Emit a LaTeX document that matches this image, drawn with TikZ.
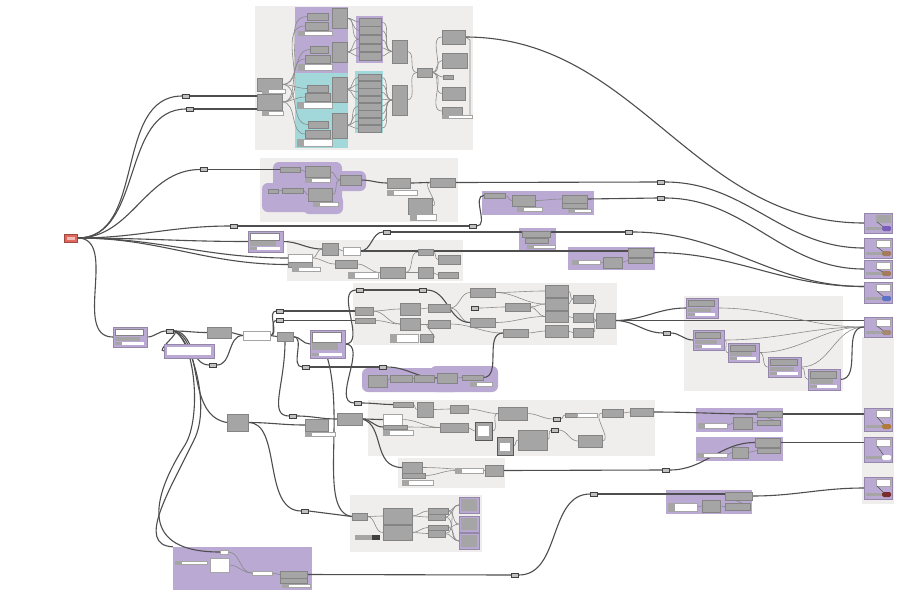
\documentclass[tikz,border=0pt]{standalone}
\usetikzlibrary{fit,calc}
\definecolor{bgc}{HTML}{EFEEEC}
\definecolor{pur}{HTML}{B9A9D3}
\definecolor{cya}{HTML}{A3D8DB}
\definecolor{ndc}{HTML}{A5A5A5}
\definecolor{wc}{HTML}{4E4E4E}
\definecolor{lwc}{HTML}{8A8A8A}
\definecolor{srcc}{HTML}{E0685D}
\definecolor{cbp}{HTML}{7A5DB8}
\definecolor{cbb}{HTML}{A27C5C}
\definecolor{cbl}{HTML}{5C72C4}
\definecolor{cbo}{HTML}{B07A38}
\definecolor{cbd}{HTML}{7B2C2C}
\pgfdeclarelayer{bgl}\pgfdeclarelayer{wl}\pgfsetlayers{bgl,wl,main}
\tikzset{
 grp/.style={fill=bgc,inner sep=0pt,draw=none},
 pg/.style={fill=pur,inner sep=0pt,draw=none},
 pgr/.style={fill=pur,inner sep=0pt,draw=none,rounded corners=6pt},
 pc/.style={fill=pur,inner sep=0pt,draw=pur!80!black,line width=0.3pt},
 cg/.style={fill=cya,inner sep=0pt,draw=none},
 gb/.style={fill=ndc,draw=ndc!80!black,line width=0.3pt,inner sep=0pt},
 gbd/.style={fill=ndc,draw=black!65,line width=0.8pt,inner sep=0pt},
 wbar/.style={fill=white,draw=ndc,line width=0.4pt,inner sep=0pt},
 relay/.style={fill=ndc!70,draw=black!75,line width=0.6pt,minimum width=7pt,minimum height=4pt,inner sep=0pt},
 wire/.style={draw=wc,line width=1.1pt},
 twire/.style={draw=lwc,line width=0.6pt},
}
\newcommand{\bx}[6]{\node[#1,fit={(#3,#4)(#5,#6)}] (#2) {};}
\newcommand{\wb}[5]{\bx{wbar}{#1}{#2}{#3}{#4}{#5}\fill[ndc] (#2,#3) rectangle (#2+7,#5);}
\newcommand{\rl}[3]{\node[relay] (#1) at (#2,#3) {};}
\newcommand{\pn}[6]{\bx{pc}{#1}{#2}{#3}{#4}{#5}
 \fill[#6,draw=ndc!80!black,line width=0.3pt] (#2+2,#3+2) rectangle (#4-4,{#3+0.42*(#5-#3)});
 \fill[ndc] (#2+2,{#3+0.48*(#5-#3)}) rectangle (#4-7,{#3+0.7*(#5-#3)});
 \fill[white] (#2+9,#5-5) rectangle (#4-3,#5-2);
 \fill[ndc] (#2+2,#5-5) rectangle (#2+9,#5-2);}
\newcommand{\outp}[5]{\bx{pc}{#1}{864}{#2}{892}{#3}
 \fill[#4,draw=ndc,line width=0.3pt] (876,#2+2) rectangle (890,#2+9);
 \draw[wc,line width=0.5pt] (877,#2+9) -- (885,#3-5);
 \fill[ndc] (866,#3-6) rectangle (882,#3-3);
 \fill[#5,rounded corners=1.5pt] (882,#3-7) rectangle (891,#3-2);}
\begin{document}
\begin{tikzpicture}[x=1pt,y=-1pt]
\useasboundingbox (0,0) rectangle (921,598);
\begin{pgfonlayer}{bgl}
\fill[white] (0,0) rectangle (921,598);
\bx{grp}{G1}{255}{6}{473}{150}
\bx{pg}{P1}{295}{7}{348}{73}
\bx{cg}{C1}{295}{73}{348}{148}
\bx{pg}{P1c}{356}{16}{383}{63}
\bx{cg}{C1c}{355}{71}{383}{133}
\bx{grp}{G2}{260}{158}{458}{222}
\bx{pgr}{P2a}{273}{162}{342}{188}
\bx{pgr}{P2b}{262}{183}{342}{212}
\bx{pgr}{P2c}{336}{171}{366}{191}
\bx{pgr}{P2d}{303}{195}{343}{214}
\bx{pg}{P3}{482}{191}{594}{215}
\bx{grp}{G3}{287}{240}{463}{281}
\bx{pg}{P6}{519}{228}{556}{250}
\bx{pg}{P7}{568}{247}{655}{270}
\bx{grp}{G8}{353}{283}{617}{345}
\bx{grp}{G9}{684}{296}{843}{391}
\bx{grp}{GR}{862}{337}{894}{504}
\bx{pgr}{P11a}{362}{368}{460}{392}
\bx{pgr}{P11b}{430}{366}{498}{392}
\bx{grp}{G12}{368}{400}{655}{456}
\bx{grp}{G13}{398}{458}{505}{488}
\bx{grp}{G14}{350}{495}{482}{552}
\bx{pg}{P15}{173}{547}{312}{590}
\bx{pg}{P16a}{696}{408}{783}{432}
\bx{pg}{P16b}{696}{437}{783}{461}
\bx{pg}{P16c}{666}{490}{752}{514}
\end{pgfonlayer}
% source
\node[fill=srcc,draw=srcc!70!black,line width=0.4pt,minimum width=13pt,minimum height=8pt,inner sep=0pt] (S) at (71,238) {};
\fill[srcc!45!white] (67,236.5) rectangle (75,239.5);
% G1
\bx{gb}{a1}{307}{13}{328}{20}
\bx{gb}{a2}{305}{22}{328}{30}
\wb{a3}{298}{31}{332}{35}
\bx{gb}{a4}{332}{8}{347}{28}
\bx{gb}{b1}{310}{46}{328}{53}
\bx{gb}{b2}{305}{55}{330}{63}
\wb{b3}{298}{64}{332}{70}
\bx{gb}{b4}{332}{42}{347}{62}
\bx{gb}{c1}{307}{85}{328}{92}
\bx{gb}{c2}{305}{93}{330}{101}
\wb{c3}{297}{102}{332}{108}
\bx{gb}{c4}{332}{77}{347}{102}
\bx{gb}{d1}{308}{121}{328}{128}
\bx{gb}{d2}{305}{130}{330}{138}
\wb{d3}{297}{139}{332}{146}
\bx{gb}{d4}{332}{113}{347}{138}
\foreach \i in {0,...,4} {\bx{gb}{s\i}{359}{18+8.6*\i}{381}{25.8+8.6*\i}}
\foreach \i in {0,...,7} {\bx{gb}{t\i}{358}{74+7.3*\i}{381}{80.6+7.3*\i}}
\bx{gb}{e1}{392}{40}{407}{63}
\bx{gb}{e2}{392}{85}{407}{115}
\bx{gb}{e3}{417}{68}{432}{77}
\bx{gb}{f1}{442}{30}{465}{44}
\bx{gb}{f2}{442}{53}{467}{68}
\bx{gb}{f3}{443}{75}{453}{79}
\bx{gb}{f4}{442}{87}{465}{100}
\bx{gb}{f5}{442}{107}{462}{115}
\wb{f6}{442}{115}{472}{118}
\bx{gb}{g1}{257}{78}{282}{91}
\wb{g1w}{262}{89}{285}{93}
\bx{gb}{g2}{257}{94}{282}{110}
\wb{g2w}{262}{111}{283}{115}
% G2
\bx{gb}{h1}{280}{167}{300}{172}
\bx{gb}{h2}{305}{166}{330}{177}
\wb{h2b}{305}{178}{330}{182}
\bx{gb}{h3}{340}{175}{361}{185}
\bx{gb}{h4}{268}{189}{278}{193}
\bx{gb}{h5}{282}{188}{303}{193}
\bx{gb}{h6}{308}{188}{332}{201}
\wb{h6b}{313}{202}{338}{206}
\bx{gb}{h7}{387}{178}{410}{188}
\wb{h7b}{387}{190}{417}{195}
\bx{gb}{h8}{430}{178}{455}{187}
\bx{gb}{h9}{408}{198}{432}{214}
\wb{h9b}{410}{214}{436}{220}
% P3
\bx{gb}{i1}{484}{193}{505}{198}
\bx{gb}{i2}{512}{195}{535}{206}
\wb{i4}{517}{207}{542}{211}
\bx{gb}{i5}{562}{195}{587}{203}
\bx{gb}{i6}{562}{203}{587}{208}
\wb{i7}{568}{209}{591}{212}
% P5, G3
\pn{P5}{248}{231}{283}{252}{white}
\bx{gb}{k1}{322}{243}{338}{255}
\bx{wbar}{k2}{343}{247}{360}{255}
\bx{gb}{k3}{335}{260}{357}{268}
\bx{wbar}{k4}{288}{254}{312}{262}
\bx{gb}{k5}{288}{262}{312}{267}
\wb{k6}{292}{267}{320}{271}
\bx{gb}{k7}{380}{267}{405}{278}
\bx{gb}{k8}{418}{249}{433}{255}
\bx{gb}{k9}{418}{267}{433}{278}
\bx{gb}{k10}{438}{255}{460}{264}
\wb{k11}{348}{272}{378}{278}
\bx{gb}{k12}{438}{272}{458}{278}
% P6 P7
\bx{gb}{l1}{522}{231}{550}{237}
\bx{gb}{l2}{525}{238}{548}{243}
\wb{l3}{527}{245}{555}{248}
\wb{m1}{572}{260}{600}{264}
\bx{gb}{m2}{603}{257}{622}{268}
\bx{gb}{m3}{628}{248}{653}{257}
\bx{gb}{m4}{628}{258}{652}{263}
% outputs
\outp{O1}{213}{233}{ndc}{cbp}
\outp{O2}{238}{258}{white}{cbb}
\outp{O3}{260}{278}{white}{cbb}
\outp{O4}{282}{303}{white}{cbl}
\outp{O5}{317}{337}{white}{cbb!70!ndc}
\outp{O6}{408}{431}{white}{cbo}
\outp{O7}{437}{462}{white}{white}
\outp{O8}{477}{499}{white}{cbd}
% left
\pn{L1}{113}{327}{147}{347}{white}
\bx{pc}{L2}{164}{344}{214}{358}
\fill[white] (167,347) rectangle (211,355);
\bx{gb}{L3}{207}{327}{231}{338}
\bx{wbar}{L4}{243}{331}{270}{340}
\bx{gb}{L5}{277}{332}{293}{341}
\pn{L6}{310}{330}{345}{358}{white}
\bx{gb}{L7}{227}{414}{248}{431}
\bx{gb}{L8}{305}{419}{328}{431}
\wb{L8b}{305}{432}{335}{436}
\bx{gb}{L9}{337}{413}{362}{425}
% G8
\bx{gb}{x1}{355}{307}{373}{315}
\bx{gb}{x2}{355}{318}{375}{323}
\bx{gb}{x3}{400}{303}{420}{315}
\bx{gb}{x4}{400}{318}{420}{330}
\bx{gb}{x5}{428}{304}{450}{312}
\bx{gb}{x6}{428}{320}{450}{328}
\wb{x7}{390}{334}{418}{342}
\bx{gb}{x8}{420}{334}{433}{342}
\bx{gb}{x9}{470}{288}{495}{297}
\bx{gb}{x10}{470}{318}{495}{327}
\bx{gb}{x11}{505}{303}{530}{311}
\bx{gb}{x12}{503}{329}{528}{337}
\bx{gb}{y1}{545}{285}{568}{297}
\bx{gb}{y2}{545}{298}{568}{310}
\bx{gb}{y3}{545}{311}{568}{322}
\bx{gb}{y4}{545}{325}{568}{337}
\bx{gb}{y5}{573}{295}{593}{303}
\bx{gb}{y6}{573}{313}{593}{322}
\bx{gb}{y7}{573}{328}{593}{337}
\bx{gb}{y8}{596}{313}{615}{328}
% P11
\bx{gb}{p1}{368}{375}{387}{387}
\bx{gb}{p2}{390}{375}{412}{382}
\bx{gb}{p3}{414}{375}{434}{382}
\bx{gb}{p4}{437}{373}{457}{383}
\bx{gb}{p5}{462}{375}{483}{380}
\wb{p6}{470}{382}{492}{386}
% G12
\bx{gb}{z1}{393}{402}{413}{407}
\bx{gb}{z2}{417}{402}{433}{417}
\bx{wbar}{z3}{383}{414}{402}{425}
\bx{gb}{z4}{383}{425}{407}{429}
\wb{z5}{383}{430}{413}{435}
\bx{gb}{z6}{450}{405}{468}{413}
\bx{gb}{z7}{440}{423}{468}{432}
\bx{gbd}{z8}{475}{422}{492}{440}
\fill[white] (478,426) rectangle (489,436);
\bx{gbd}{z9}{497}{437}{513}{455}
\fill[white] (500,443) rectangle (510,451);
\bx{gb}{z10}{498}{407}{527}{420}
\bx{gb}{z11}{518}{430}{547}{450}
\bx{gb}{z12}{565}{413}{577}{417}
\fill[white,draw=ndc,line width=0.3pt] (577,413) rectangle (597,417);
\bx{gb}{z13}{578}{435}{602}{447}
\bx{gb}{z14}{602}{409}{623}{417}
\bx{gb}{z15}{630}{408}{653}{416}
% G13
\bx{gb}{o1}{402}{462}{422}{473}
\bx{gb}{o2}{402}{473}{425}{478}
\wb{o3}{402}{480}{433}{485}
\wb{o4}{455}{468}{483}{473}
\bx{gb}{o5}{485}{465}{503}{476}
% G14
\bx{gb}{n1}{352}{513}{367}{520}
\bx{gb}{n2}{383}{508}{412}{524}
\bx{gb}{n3}{383}{525}{412}{540}
\bx{gb}{n4}{428}{508}{448}{514}
\bx{gb}{n5}{428}{514}{445}{520}
\bx{gb}{n6}{428}{525}{448}{530}
\bx{gb}{n7}{428}{530}{445}{537}
\bx{pc}{v1}{459}{497}{479}{513}
\bx{pc}{v2}{459}{516}{479}{532}
\bx{pc}{v3}{459}{533}{479}{549}
\fill[ndc] (461,499) rectangle (477,511) (461,518) rectangle (477,530) (461,535) rectangle (477,547);
\fill[ndc] (355,535) rectangle (372,540);
\fill[black!75] (372,535) rectangle (380,540);
% P15
\bx{wbar}{pw1}{220}{550}{228}{554}
\wb{pbar}{175}{561}{207}{564}
\bx{wbar}{pw2}{210}{558}{229}{572}
\bx{wbar}{pw3}{252}{571}{272}{575}
\bx{gb}{pb1}{280}{571}{307}{578}
\bx{gb}{pb2}{280}{578}{307}{583}
\wb{pb3}{282}{584}{310}{587}
% P16
\wb{ua1}{698}{423}{727}{428}
\bx{gb}{ua2}{733}{417}{752}{429}
\bx{gb}{ua3}{757}{411}{782}{417}
\bx{gb}{ua4}{757}{420}{780}{425}
\bx{gb}{ub1}{755}{438}{780}{447}
\bx{gb}{ub2}{757}{448}{780}{453}
\bx{gb}{ub3}{732}{447}{748}{458}
\wb{ub4}{697}{453}{727}{457}
\wb{uc1}{668}{503}{697}{511}
\bx{gb}{uc2}{702}{500}{720}{512}
\bx{gb}{uc3}{725}{492}{752}{500}
\bx{gb}{uc4}{725}{503}{750}{510}
% G9
\pn{Q1}{686}{298}{718}{318}{ndc}
\pn{Q2}{693}{330}{724}{350}{ndc}
\pn{Q3}{728}{343}{759}{362}{ndc}
\pn{Q4}{768}{357}{801}{377}{ndc}
\pn{Q5}{808}{369}{840}{390}{ndc}
% relays
\rl{r1}{186}{96}\rl{r2}{190}{109}\rl{r3}{204}{169.5}\rl{r4}{234}{226}\rl{r5}{473}{226}
\rl{r6}{661}{182}\rl{r7}{661}{198}\rl{r8}{629}{232}\rl{r9}{387}{232}\rl{r10}{170}{331}
\rl{r11}{213}{365}\rl{r12}{280}{311}\rl{r13}{280}{320.5}\rl{r14}{306}{367}\rl{r15}{360}{290}
\rl{r16}{423}{290}\rl{r17}{475}{308}\rl{r18}{383}{367}\rl{r19}{667}{333}\rl{r20}{293}{416}
\rl{r21}{358}{403}\rl{r22}{557}{419}\rl{r23}{555}{430}\rl{r24}{666}{470}\rl{r25}{305}{511}
\rl{r26}{515}{575}\rl{r27}{594}{494}
% ---------------- wires
\begin{pgfonlayer}{wl}
% top inputs
\draw[wire] (S.east) to[out=0,in=180] (r1.west); \draw[wire] (r1.east) -- (r1 -| g2.west);
\draw[wire] (S.east) to[out=0,in=180] (r2.west); \draw[wire] (r2.east) -- (r2 -| g2.west);
% G1 internal
\foreach \t in {a1,b1,c1,d1} {\draw[twire] (g1.east) to[out=0,in=180] (\t.west);}
\foreach \t in {a2,b2,c2,d2} {\draw[twire] (g2.east) to[out=0,in=180] (\t.west);}
\foreach \i in {0,1,2} {\draw[twire] (a4.east) to[out=0,in=180] (s\i.west);}
\foreach \i in {2,3,4} {\draw[twire] (b4.east) to[out=0,in=180] (s\i.west);}
\foreach \i in {0,...,3} {\draw[twire] (c4.east) to[out=0,in=180] (t\i.west);}
\foreach \i in {4,...,7} {\draw[twire] (d4.east) to[out=0,in=180] (t\i.west);}
\foreach \i in {0,...,4} {\draw[twire] (s\i.east) to[out=0,in=180] (e1.west);}
\foreach \i in {0,...,7} {\draw[twire] (t\i.east) to[out=0,in=180] (e2.west);}
\draw[twire] (e1.east) to[out=0,in=180] (e3.west);
\draw[twire] (e2.east) to[out=0,in=180] (e3.west);
\foreach \t in {f1,f2,f3,f4,f5} {\draw[twire] (e3.east) to[out=0,in=180] (\t.west);}
\draw[twire] (f1.east) -- (470,40) -- (470,116);
% G2
\draw[wire] (S.east) to[out=0,in=180] (r3.west); \draw[wire] (r3.east) -- (h1.west);
\draw[twire] (h1.east) to[out=0,in=180] (h2.west);
\draw[twire] (h2.east) to[out=0,in=180] (h3.west);
\draw[twire] (h6.east) to[out=0,in=180] (h3.west);
\draw[twire] (h4.east) -- (h5.west);
\draw[twire] (h5.east) to[out=0,in=180] (h6.west);
\draw[wire] (h3.east) to[out=0,in=180] (h7.west);
\draw[wire] (h7.east) to[out=0,in=180] (h8.west);
\draw[twire] (h8.west) to[out=180,in=0] (h9.east);
\draw[wire] (h8.east) -- (r6.west);
% straight lines from source
\draw[wire] (S.east) to[out=0,in=180] (r4.west); \draw[wire] (r4.east) -- (r5.west);
\draw[wire] (r5.east) to[out=0,in=180] (i1.west);
\draw[twire] (i1.east) to[out=0,in=180] (i2.west);
\draw[twire] (i2.east) to[out=0,in=180] (i5.west);
\draw[wire] (i5.east) -- (r7.west);
\draw[wire] (S.east) to[out=0,in=180] (P5.west);
\draw[wire] (S.east) to[out=0,in=180] (k4.west);
\draw[wire] (S.east) to[out=0,in=180] (k5.west);
\draw[wire] (P5.east) to[out=0,in=180] (k1.west);
\draw[twire] (k1.east) to[out=0,in=180] (k2.west);
\draw[twire] (k4.east) to[out=0,in=180] (k1.west);
\draw[twire] (k4.east) to[out=0,in=180] (k3.west);
\draw[twire] (k3.east) to[out=0,in=180] (k7.west);
\draw[twire] (k7.east) to[out=0,in=180] (k8.west);
\draw[twire] (k7.east) to[out=0,in=180] (k9.west);
\draw[twire] (k8.east) to[out=0,in=180] (k10.west);
\draw[twire] (k9.east) to[out=0,in=180] (k12.west);
\draw[wire] (k2.east) to[out=0,in=180] (r9.west);
\draw[wire] (k2.east) -- (k2.east -| m3.west);
\draw[wire] (r9.east) -- (r9 -| l1.west);
\draw[wire] (r9 -| l1.east) -- (r8.west);
\draw[twire] (m1.east) to[out=0,in=180] (m2.west);
\draw[twire] (m2.east) to[out=0,in=180] (m4.west);
% right outputs
\draw[wire] (f1.east) to[out=0,in=180] (O1.west);
\draw[wire] (r6.east) to[out=0,in=180] (O2.west);
\draw[wire] (r7.east) to[out=0,in=180] (O3.west);
\draw[wire] (r8.east) to[out=0,in=180] ([yshift=6pt]O4.west);
\draw[wire] (m3.east) to[out=0,in=180] ([yshift=6pt]O4.west);
% G8 internal
\draw[wire] (r12.east) -- (x1.west); \draw[wire] (r13.east) -- (x2.west);
\draw[twire] (x1.east) to[out=0,in=180] (x3.west);
\draw[twire] (x1.east) to[out=0,in=180] (x4.west);
\draw[twire] (x2.east) to[out=0,in=180] (x4.west);
\draw[twire] (x3.east) to[out=0,in=180] (x5.west);
\draw[twire] (x4.east) to[out=0,in=180] (x6.west);
\draw[twire] (x5.east) to[out=0,in=180] (x9.west);
\draw[twire] (x5.east) to[out=0,in=180] (x10.west);
\draw[twire] (x6.east) to[out=0,in=180] (x12.west);
\draw[twire] (x8.east) to[out=0,in=180] (x6.west);
\draw[twire] (r17.east) to[out=0,in=180] (x11.west);
\draw[twire] (x9.east) to[out=0,in=180] (y1.west);
\draw[twire] (x9.east) to[out=0,in=180] (y2.west);
\draw[twire] (x10.east) to[out=0,in=180] (y3.west);
\draw[twire] (x11.east) to[out=0,in=180] (y2.west);
\draw[twire] (x11.east) to[out=0,in=180] (y3.west);
\draw[twire] (x12.east) to[out=0,in=180] (y4.west);
\draw[twire] (y1.east) to[out=0,in=180] (y5.west);
\draw[twire] (y2.east) to[out=0,in=180] (y5.west);
\draw[twire] (y3.east) to[out=0,in=180] (y6.west);
\draw[twire] (y4.east) to[out=0,in=180] (y7.west);
\foreach \t in {y5,y6,y7} {\draw[twire] (\t.east) to[out=0,in=180] (y8.west);}
\draw[wire] (r15.east) -- (r16.west);
\draw[wire] (r16.east) to[out=0,in=180] (x10.west);
% G9 fan
\draw[wire] (y8.east) to[out=0,in=180] (Q1.west);
\draw[wire] (y8.east) to[out=0,in=180] (r19.west);
\draw[wire] (r19.east) to[out=0,in=180] (Q2.west);
\draw[wire] (y8.east) -- (y8.east -| O5.west);
\draw[twire] (Q2.east) to[out=0,in=180] (Q3.west);
\draw[twire] (Q3.east) to[out=0,in=180] (Q4.west);
\draw[twire] (Q4.east) to[out=0,in=180] (Q5.west);
\foreach \t in {Q1,Q2,Q3,Q4} {\draw[twire] (\t.east) to[out=0,in=180] (O5.west);}
\draw[wire] (Q5.east) to[out=0,in=180] (O5.west);
% left / lower
\draw[wire] (S.east) to[out=0,in=180] (L1.west);
\draw[wire] (L1.east) to[out=0,in=180] (r10.west);
\draw[wire] (r10.east) to[out=0,in=180] (L3.west);
\draw[wire] (r10.east) to[out=0,in=180] (r11.west);
\draw[wire] (r10.east) to[out=0,in=180] (L2.west);
\draw[wire] (r11.east) to[out=0,in=180] (L4.west);
\draw[wire] (L3.east) -- (L4.west);
\draw[wire] (L4.east) to[out=0,in=180] (r12.west);
\draw[wire] (L4.east) to[out=0,in=180] (r13.west);
\draw[wire] (L4.east) to[out=0,in=180] (L5.west);
\draw[wire] (L5.east) to[out=0,in=180] (L6.west);
\draw[wire] (L5.east) to[out=0,in=180] (r14.west);
\draw[wire] (r14.east) -- (r18.west);
\draw[wire] (r18.east) to[out=0,in=180] (p4.west);
\draw[twire] (p1.east) -- (p2.west); \draw[twire] (p2.east) -- (p3.west);
\draw[twire] (p3.east) -- (p4.west); \draw[twire] (p4.east) -- (p5.west);
\draw[wire] (p5.east) to[out=0,in=180] (x12.west);
\draw[wire] (L6.east) to[out=0,in=180] (r15.west);
\draw[wire] (L6.east) to[out=0,in=180] (r21.west);
\draw[wire] (L6.south) .. controls (345,420) and (318,512) .. (n1.west);
\draw[wire] (L5.south) .. controls (285,385) and (268,416) .. (r20.west);
\draw[wire] (r20.east) to[out=0,in=180] (L9.west);
\draw[wire] (r10.east) .. controls (195,340) and (202,417) .. (185,445) .. controls (150,500) and (140,552) .. (pw1.west);
\draw[wire] (r10.east) .. controls (190,336) and (212,405) .. (194,440) .. controls (170,490) and (135,545) .. (P15.north west);
\draw[wire] (r10.east) .. controls (205,340) and (185,415) .. (L7.west);
\draw[wire] (L7.east) to[out=0,in=180] (L8.west);
\draw[wire] (L7.east) .. controls (282,422) and (262,511) .. (r25.west);
\draw[wire] (r25.east) -- (n1.west);
\draw[twire] (n1.east) to[out=0,in=180] (n2.west);
\draw[twire] (n1.east) to[out=0,in=180] (n3.west);
\draw[twire] (n2.east) to[out=0,in=180] (n4.west);
\draw[twire] (n2.east) to[out=0,in=180] (n5.west);
\draw[twire] (n3.east) to[out=0,in=180] (n6.west);
\draw[twire] (n3.east) to[out=0,in=180] (n7.west);
\foreach \a/\b in {n4/v1,n4/v2,n5/v1,n5/v3,n6/v2,n6/v3,n7/v1,n7/v3} {\draw[twire] (\a.east) to[out=0,in=180] (\b.west);}
% G12
\draw[wire] (r21.east) to[out=0,in=180] (z1.west);
\draw[wire] (L9.east) to[out=0,in=180] (z3.west);
\draw[wire] (L9.east) to[out=0,in=180] (z4.west);
\draw[wire] (L9.east) .. controls (385,425) and (372,467) .. (o1.west);
\draw[twire] (z1.east) to[out=0,in=180] (z2.west);
\draw[twire] (z2.east) to[out=0,in=180] (z6.west);
\draw[twire] (z4.east) to[out=0,in=180] (z7.west);
\draw[twire] (z3.east) to[out=0,in=180] (z7.west);
\draw[twire] (z7.east) to[out=0,in=180] (z8.west);
\draw[twire] (z6.east) to[out=0,in=180] (z10.west);
\draw[twire] (z8.east) to[out=0,in=180] (z10.west);
\draw[twire] (z9.east) to[out=0,in=180] (z11.west);
\draw[twire] (z10.east) to[out=0,in=180] (r22.west);
\draw[twire] (z11.east) to[out=0,in=180] (r23.west);
\draw[twire] (r22.east) to[out=0,in=180] (z12.west);
\draw[twire] (r23.east) to[out=0,in=180] (z13.west);
\draw[twire] (z13.east) to[out=0,in=180] (z14.west);
\draw[twire] (z14.east) -- (z15.west);
\draw[wire] (z15.east) to[out=0,in=180] (ua3.west);
\draw[twire] (ua1.east) to[out=0,in=180] (ua2.west);
\draw[twire] (ua2.east) to[out=0,in=180] (ua4.west);
\draw[twire] (ua3.west) -- (ua4.east);
\draw[wire] (ua3.east) -- (ua3.east -| O6.west);
% G13
\draw[twire] (o1.east) to[out=0,in=180] (o5.west);
\draw[twire] (o2.east) to[out=0,in=180] (o4.west);
\draw[wire] (o5.east) -- (r24.west);
\draw[wire] (r24.east) to[out=0,in=180] (ub1.west);
\draw[twire] (ub4.east) to[out=0,in=180] (ub3.west);
\draw[twire] (ub3.east) to[out=0,in=180] (ub2.west);
\draw[wire] (ub1.east) -- (ub1.east -| O7.west);
% P15
\draw[twire] (pw1.east) to[out=0,in=180] (pw3.west);
\draw[twire] (pw2.east) to[out=0,in=180] (pw3.west);
\draw[twire] (pw3.east) -- (pb1.west);
\draw[wire] (pb1.east) -- (r26.west);
\draw[wire] (r26.east) to[out=0,in=180] (r27.west);
\draw[wire] (r27.east) -- (r27 -| uc3.west);
\draw[twire] (uc1.east) to[out=0,in=180] (uc2.west);
\draw[twire] (uc2.east) to[out=0,in=180] (uc4.west);
\draw[twire] (uc3.west) -- (uc4.east);
\draw[wire] (uc3.east) to[out=0,in=180] (O8.west);
\end{pgfonlayer}
\end{tikzpicture}
\end{document}
